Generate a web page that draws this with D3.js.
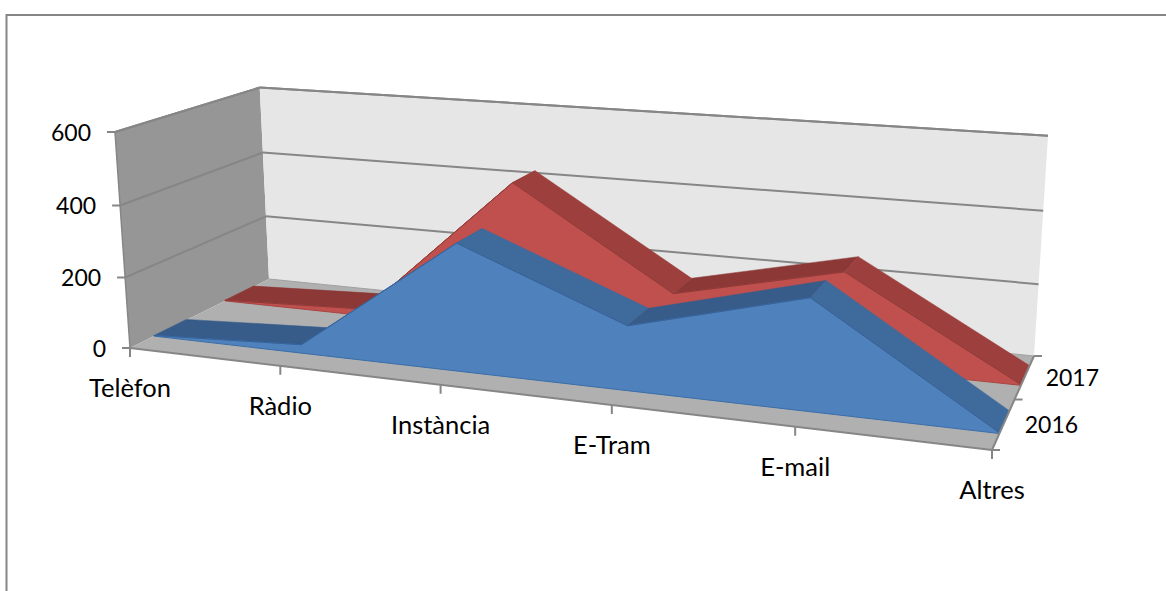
<!DOCTYPE html>
<html>
<head>
<meta charset="utf-8">
<script src="https://cdn.jsdelivr.net/npm/d3@7"></script>
<style>
html,body{margin:0;padding:0;background:#fff;overflow:hidden}
text{font-family:Lato,"Open Sans",sans-serif;fill:#000}
.num{font-size:23px}
.cat{font-size:25.5px}
</style>
</head>
<body>
<svg id="chart" width="1166" height="591"></svg>
<script>
// Chart data
const categories = ["Telèfon", "Ràdio", "Instància", "E-Tram", "E-mail", "Altres"];
const seriesNames = ["2016", "2017"];
const values2016 = [2, 24, 347, 172, 290, 2];
const values2017 = [2, 20, 428, 155, 258, 2];
const valueTicks = [0, 200, 400, 600];

// Perspective box: screen positions of the plot cube's corners
const O = [130, 348];   // floor, front left
const X = [992, 450];   // floor, front right
const Z = [269, 279];   // floor, back left
const R = [1034, 356];  // floor, back right
const Y = [115, 132];   // wall top, front left
const U = [1048, 136];  // wall top, back right

// Solve the homogeneous weights of the projection from the corners
const a1 = R[0] - X[0], c1 = R[0] - Z[0], r1 = X[0] + Z[0] - O[0] - R[0];
const a2 = R[1] - X[1], c2 = R[1] - Z[1], r2 = X[1] + Z[1] - O[1] - R[1];
const det = a1 * c2 - a2 * c1;
const wa = (r1 * c2 - r2 * c1) / det;
const wc = (a1 * r2 - a2 * r1) / det;
const wb = (X[0] * (1 + wa) + Y[0] + Z[0] * (1 + wc) - 2 * O[0] - U[0] * (1 + wa + wc)) / (U[0] - Y[0]);

function project(x, y, z) {
  const w = 1 + wa * x + wb * y + wc * z;
  const c = i => O[i]
    + (X[i] * (1 + wa) - O[i]) * x
    + (Y[i] * (1 + wb) - O[i]) * y
    + (Z[i] * (1 + wc) - O[i]) * z;
  return [c(0) / w, c(1) / w];
}

// Scales from data space to unit cube space
const xScale = d3.scalePoint().domain(categories).range([0, 1]);
const yScale = d3.scaleLinear().domain([0, 600]).range([0, 1]);
const zScale = d3.scaleBand().domain(seriesNames).range([0, 1]);

const svg = d3.select("#chart");
const path = d3.line();
const poly = (pts, fill, stroke, sw) => svg.append("path")
  .attr("d", path(pts) + "Z")
  .attr("fill", fill)
  .attr("stroke", stroke || "none")
  .attr("stroke-width", sw || 0)
  .attr("stroke-linejoin", "round");
const seg = (p, q, color, sw) => svg.append("line")
  .attr("x1", p[0]).attr("y1", p[1]).attr("x2", q[0]).attr("y2", q[1])
  .attr("stroke", color).attr("stroke-width", sw);

const gridColor = "#868686";

// Outer chart frame, open on the right and at the bottom
svg.append("path").attr("d", "M6.5,591V15H1166")
  .attr("fill", "none").attr("stroke", gridColor).attr("stroke-width", 2);

// Walls and floor
poly([project(0,0,0), project(0,1,0), project(0,1,1), project(0,0,1)], "#969696");
poly([project(0,0,1), project(0,1,1), project(1,1,1), project(1,0,1)], "#e6e6e6");
poly([project(0,0,0), project(1,0,0), project(1,0,1), project(0,0,1)], "#b0b0b0");

// Gridlines running around the side and back walls
valueTicks.forEach(v => {
  const y = yScale(v);
  if (v > 0) {
    seg(project(0,y,0), project(0,y,1), gridColor, 2);
    seg(project(0,y,1), project(1,y,1), gridColor, 2);
  }
});
seg(project(0,0,1), project(1,0,1), "#a0a0a0", 1);
seg(project(0,0,0), project(0,1,0), gridColor, 1.5);

// Area ribbons, back series first so the front one overlaps it
const ribbonDepth = 0.22;
const ribbonOffset = 0.155;
const palette = {
  "2016": {front: "#4f81bd", edge: "#3b6ea8", fall: "#3f6a9c", rise: "#375c8a", line: "#38639a"},
  "2017": {front: "#c0504d", edge: "#a94441", fall: "#9c3f3d", rise: "#8b3836", line: "#8f3b39"}
};

function drawRibbon(name, values) {
  const colors = palette[name];
  const zFront = zScale(name) + ribbonOffset;
  const zBack = zFront + ribbonDepth;
  const front = values.map((v, i) => project(xScale(categories[i]), yScale(v), zFront));
  const back = values.map((v, i) => project(xScale(categories[i]), yScale(v), zBack));

  // Top strips between neighbouring categories
  d3.pairs(d3.range(values.length)).forEach(([i, j]) => {
    const fill = values[j] < values[i] ? colors.fall : colors.rise;
    poly([front[i], front[j], back[j], back[i]], fill, fill, 0.5);
  });

  // Front face of the area
  const base = [
    project(xScale(categories[categories.length - 1]), 0, zFront),
    project(xScale(categories[0]), 0, zFront)
  ];
  poly(front.concat(base), colors.front, colors.edge, 1);
  svg.append("path").attr("d", path(front))
    .attr("fill", "none").attr("stroke", colors.line).attr("stroke-width", 1);
}
drawRibbon("2017", values2017);
drawRibbon("2016", values2016);

// Floor edges and axes drawn above the plot
seg(project(0,0,0), project(1,0,0), gridColor, 2);
seg(project(1,0,0), project(1,0,1), gridColor, 2);
seg(project(0,1,0), project(0,1,1), gridColor, 2);
seg(project(0,1,1), project(1,1,1), gridColor, 2);

// Value axis
valueTicks.forEach(v => {
  const p = project(0, yScale(v), 0);
  seg([p[0] - 8, p[1]], p, gridColor, 2);
  svg.append("text").attr("class", "num").attr("x", p[0] - 24).attr("y", p[1] + 3)
    .attr("text-anchor", "end").attr("dominant-baseline", "middle").text(v);
});

// Category axis
categories.forEach(c => {
  const p = project(xScale(c), 0, 0);
  seg(p, [p[0], p[1] + 9], gridColor, 2);
  svg.append("text").attr("class", "cat").attr("x", p[0]).attr("y", p[1] + 43)
    .attr("text-anchor", "middle").attr("dominant-baseline", "middle").text(c);
});

// Depth axis
[0, 0.5, 1].forEach(z => {
  const p = project(1, 0, z);
  seg(p, [p[0] + 8, p[1]], gridColor, 2);
});
seriesNames.forEach(n => {
  const p = project(1, 0, zScale(n) + zScale.bandwidth() / 2);
  svg.append("text").attr("class", "num").attr("x", p[0] + 21).attr("y", p[1] + 3)
    .attr("dominant-baseline", "middle").text(n);
});
</script>
</body>
</html>
